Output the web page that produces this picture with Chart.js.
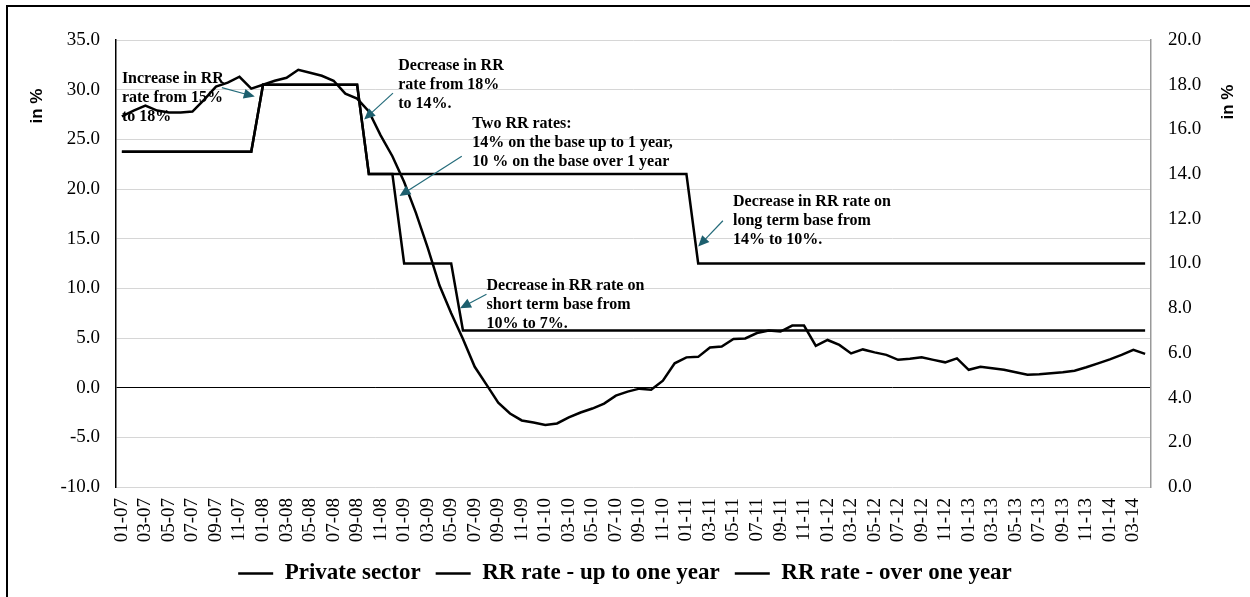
<!DOCTYPE html>
<html>
<head>
<meta charset="utf-8">
<script src="https://cdn.jsdelivr.net/npm/chart.js@4.4.1/dist/chart.umd.min.js"></script>
<style>
  html, body { margin: 0; padding: 0; background: #fff; }
  #wrap { position: relative; width: 1250px; height: 597px; overflow: hidden; }
  #frame { position: absolute; left: 6px; top: 5px; width: 1300px; height: 700px;
           border-left: 2px solid #000; border-top: 2px solid #000; }
  #chartRR { position: absolute; left: 0; top: 0; }
</style>
</head>
<body>
<div id="wrap">
  <div id="frame"></div>
  <canvas id="chartRR" width="1250" height="597"></canvas>
</div>
<script>
// monthly, 01-07 .. 04-14
const months = [
  '01-07','02-07','03-07','04-07','05-07','06-07','07-07','08-07','09-07','10-07','11-07','12-07',
  '01-08','02-08','03-08','04-08','05-08','06-08','07-08','08-08','09-08','10-08','11-08','12-08',
  '01-09','02-09','03-09','04-09','05-09','06-09','07-09','08-09','09-09','10-09','11-09','12-09',
  '01-10','02-10','03-10','04-10','05-10','06-10','07-10','08-10','09-10','10-10','11-10','12-10',
  '01-11','02-11','03-11','04-11','05-11','06-11','07-11','08-11','09-11','10-11','11-11','12-11',
  '01-12','02-12','03-12','04-12','05-12','06-12','07-12','08-12','09-12','10-12','11-12','12-12',
  '01-13','02-13','03-13','04-13','05-13','06-13','07-13','08-13','09-13','10-13','11-13','12-13',
  '01-14','02-14','03-14','04-14'
];

// left axis, in %
const privateSector = [
  27.3, 27.9, 28.4, 27.9, 27.7, 27.7, 27.8, 29.0, 30.3, 30.7, 31.3, 30.1,
  30.5, 30.9, 31.2, 32.0, 31.7, 31.4, 30.9, 29.6, 29.1, 27.8, 25.4, 23.3,
  20.7, 17.6, 14.1, 10.3, 7.5, 4.9, 2.1, 0.3, -1.5, -2.6, -3.3, -3.5,
  -3.75, -3.6, -3.0, -2.5, -2.1, -1.6, -0.8, -0.4, -0.1, -0.2, 0.7, 2.45,
  3.05, 3.1, 4.05, 4.15, 4.9, 4.95, 5.5, 5.75, 5.65, 6.25, 6.25, 4.2,
  4.8, 4.3, 3.45, 3.85, 3.55, 3.3, 2.8, 2.9, 3.05, 2.8, 2.55, 2.95,
  1.8, 2.1, 1.95, 1.8, 1.55, 1.3, 1.35, 1.45, 1.55, 1.7, 2.05, 2.45,
  2.85, 3.3, 3.8, 3.4
];

// right axis, in %
const rrUpToOneYear = [
  15, 15, 15, 15, 15, 15, 15, 15, 15, 15, 15, 15,
  18, 18, 18, 18, 18, 18, 18, 18, 18, 14, 14, 14,
  14, 14, 14, 14, 14, 14, 14, 14, 14, 14, 14, 14,
  14, 14, 14, 14, 14, 14, 14, 14, 14, 14, 14, 14,
  14, 10, 10, 10, 10, 10, 10, 10, 10, 10, 10, 10,
  10, 10, 10, 10, 10, 10, 10, 10, 10, 10, 10, 10,
  10, 10, 10, 10, 10, 10, 10, 10, 10, 10, 10, 10,
  10, 10, 10, 10
];

const rrOverOneYear = [
  15, 15, 15, 15, 15, 15, 15, 15, 15, 15, 15, 15,
  18, 18, 18, 18, 18, 18, 18, 18, 18, 14, 14, 14,
  10, 10, 10, 10, 10, 7, 7, 7, 7, 7, 7, 7,
  7, 7, 7, 7, 7, 7, 7, 7, 7, 7, 7, 7,
  7, 7, 7, 7, 7, 7, 7, 7, 7, 7, 7, 7,
  7, 7, 7, 7, 7, 7, 7, 7, 7, 7, 7, 7,
  7, 7, 7, 7, 7, 7, 7, 7, 7, 7, 7, 7,
  7, 7, 7, 7
];

// text boxes with arrows, anchored in (month index, left-axis value)
const notes = [
  { lines: ['Increase in RR', 'rate from 15%', 'to 18%'], at: [0, 31.1], from: [8.5, 30.2], to: [11.3, 29.3] },
  { lines: ['Decrease in RR', 'rate from 18%', 'to 14%.'], at: [23.5, 32.4], from: [23.05, 29.65], to: [20.6, 27.0] },
  { lines: ['Two RR rates:', '14% on the base up to 1 year,', '10 % on the base over 1 year'], at: [29.8, 26.55], from: [28.9, 23.3], to: [23.6, 19.3] },
  { lines: ['Decrease in RR rate on', 'long term base from', '14% to 10%.'], at: [51.96, 18.7], from: [51.1, 16.8], to: [49.0, 14.2] },
  { lines: ['Decrease in RR rate on', 'short term base from', '10% to 7%.'], at: [31.0, 10.2], from: [31.0, 9.4], to: [28.75, 8.0] }
];

const serif = '"Liberation Serif", "Times New Roman", serif';

const notesPlugin = {
    id: 'notes',
    afterDatasetsDraw(chart) {
        const ctx = chart.ctx;
        const xs = chart.scales.x, ys = chart.scales.y;
        ctx.save();
        ctx.font = 'bold 16px ' + serif;
        ctx.fillStyle = '#000';
        ctx.textAlign = 'left';
        ctx.textBaseline = 'middle';
        notes.forEach(n => {
            const tx = xs.getPixelForValue(n.at[0]);
            const ty = ys.getPixelForValue(n.at[1]);
            n.lines.forEach((l, k) => ctx.fillText(l, tx, ty + k * 19));

            const x1 = xs.getPixelForValue(n.from[0]), y1 = ys.getPixelForValue(n.from[1]);
            const x2 = xs.getPixelForValue(n.to[0]), y2 = ys.getPixelForValue(n.to[1]);
            const a = Math.atan2(y2 - y1, x2 - x1);
            ctx.strokeStyle = '#246b7a';
            ctx.fillStyle = '#1d5f6e';
            ctx.lineWidth = 1.2;
            ctx.beginPath();
            ctx.moveTo(x1, y1);
            ctx.lineTo(x2 - 8 * Math.cos(a), y2 - 8 * Math.sin(a));
            ctx.stroke();
            ctx.beginPath();
            ctx.moveTo(x2, y2);
            ctx.lineTo(x2 - 11 * Math.cos(a) + 5 * Math.sin(a), y2 - 11 * Math.sin(a) - 5 * Math.cos(a));
            ctx.lineTo(x2 - 11 * Math.cos(a) - 5 * Math.sin(a), y2 - 11 * Math.sin(a) + 5 * Math.cos(a));
            ctx.closePath();
            ctx.fill();
            ctx.fillStyle = '#000';
        });

        // axis titles sit near the top of each axis
        ctx.font = 'bold 17px "Liberation Sans", Arial, sans-serif';
        ctx.textAlign = 'center';
        const top = chart.chartArea.top;
        [[37, top + 66], [1228, top + 62]].forEach(p => {
            ctx.save();
            ctx.translate(p[0], p[1]);
            ctx.rotate(-Math.PI / 2);
            ctx.fillText('in %', 0, 0);
            ctx.restore();
        });
        ctx.restore();
    }
};

new Chart(document.getElementById('chartRR'), {
    type: 'line',
    data: {
        labels: months,
        datasets: [{
            label: 'Private sector',
            data: privateSector,
            yAxisID: 'y',
            borderColor: '#000',
            backgroundColor: '#000',
            borderWidth: 2.5,
            pointRadius: 0,
            tension: 0
        }, {
            label: 'RR rate - up to one year',
            data: rrUpToOneYear,
            yAxisID: 'y1',
            borderColor: '#000',
            backgroundColor: '#000',
            borderWidth: 2.5,
            pointRadius: 0,
            tension: 0
        }, {
            label: 'RR rate - over one year',
            data: rrOverOneYear,
            yAxisID: 'y1',
            borderColor: '#000',
            backgroundColor: '#000',
            borderWidth: 2.5,
            pointRadius: 0,
            tension: 0
        }]
    },
    options: {
        responsive: false,
        animation: false,
        layout: { padding: { top: 40, bottom: 2, left: 0, right: 0 } },
        scales: {
            x: {
                offset: true,
                grid: { display: false, drawTicks: false },
                border: { display: false },
                afterFit: (s) => { s.height = 60; },
                ticks: {
                    autoSkip: false,
                    maxRotation: 90,
                    minRotation: 90,
                    padding: 11,
                    color: '#000',
                    font: { family: serif, size: 19 },
                    callback: function(v, i) { return i % 2 === 0 ? this.getLabelForValue(v) : null; }
                }
            },
            y: {
                position: 'left',
                min: -10,
                max: 35,
                afterFit: (s) => { s.width = 116; },
                grid: {
                    drawTicks: false,
                    color: (c) => (c.tick && c.tick.value === 0) ? '#000' : '#d6d6d6',
                    lineWidth: 1
                },
                border: { color: '#000', width: 1.5 },
                ticks: {
                    stepSize: 5,
                    padding: 16,
                    color: '#000',
                    font: { family: serif, size: 19 },
                    callback: (v) => v.toFixed(1)
                }
            },
            y1: {
                position: 'right',
                min: 0,
                max: 20,
                afterFit: (s) => { s.width = 99; },
                grid: { display: false, drawTicks: false },
                border: { color: '#999', width: 1.5 },
                ticks: {
                    stepSize: 2,
                    padding: 17,
                    color: '#000',
                    font: { family: serif, size: 19 },
                    callback: (v) => v.toFixed(1)
                }
            }
        },
        plugins: {
            tooltip: { enabled: false },
            legend: {
                position: 'bottom',
                labels: {
                    usePointStyle: true,
                    pointStyle: 'line',
                    pointStyleWidth: 35,
                    padding: 15,
                    color: '#000',
                    font: { family: serif, size: 23, weight: 'bold' }
                }
            }
        }
    },
    plugins: [notesPlugin]
});
</script>
</body>
</html>
